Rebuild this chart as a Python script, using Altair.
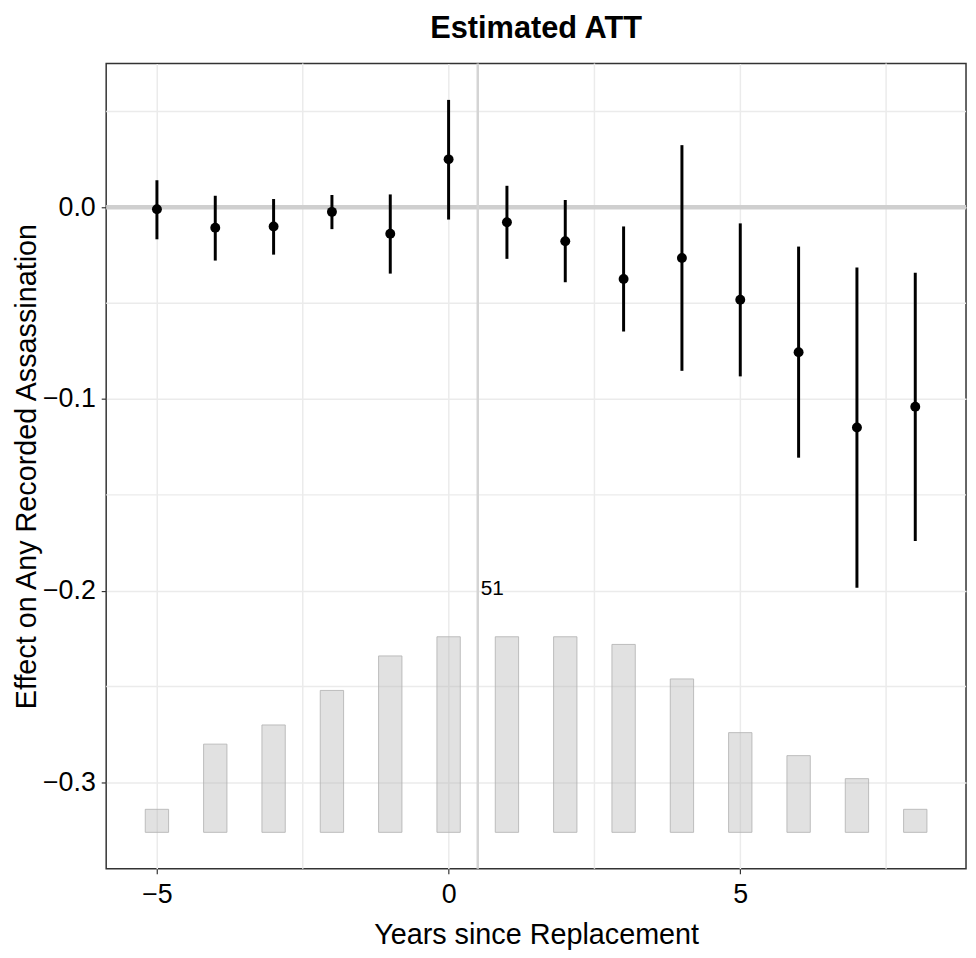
import altair as alt
import pandas as pd

# ---- data ----
time = [-5, -4, -3, -2, -1, 0, 1, 2, 3, 4, 5, 6, 7, 8]
att = [-0.0010, -0.0107, -0.0100, -0.0024, -0.0138, 0.0250, -0.0078,
       -0.0177, -0.0374, -0.0265, -0.0482, -0.0756, -0.1149, -0.1040]
ci_lower = [-0.0167, -0.0278, -0.0247, -0.0114, -0.0346, -0.0064, -0.0269,
            -0.0391, -0.0648, -0.0853, -0.0882, -0.1306, -0.1985, -0.1740]
ci_upper = [0.0141, 0.0060, 0.0043, 0.0064, 0.0067, 0.0560, 0.0112,
            0.0038, -0.0100, 0.0324, -0.0084, -0.0205, -0.0314, -0.0341]
counts = [6, 23, 28, 37, 46, 51, 51, 51, 49, 40, 26, 20, 14, 6]

x_major = [-5, 0, 5]
x_minor = [-2.5, 2.5, 7.5]
y_major = [-0.3, -0.2, -0.1, 0.0]
y_minor = [-0.25, -0.15, -0.05, 0.05]

# ---- layout / style constants ----
X_DOMAIN = [-5.87, 8.87]
Y_DOMAIN = [-0.345, 0.075]
BAR_BASE = -0.326
BAR_MAX_H = 0.102
BAR_HALF = 0.2
W, H = 867, 812
FONT = "Liberation Sans"
GRID = "#ebebeb"

df = pd.DataFrame({"time": time, "att": att, "lo": ci_lower, "hi": ci_upper, "count": counts})
df["x0"] = df["time"] - BAR_HALF
df["x1"] = df["time"] + BAR_HALF
df["y0"] = BAR_BASE
df["y1"] = BAR_BASE + df["count"] / max(counts) * BAR_MAX_H

xs = alt.Scale(domain=X_DOMAIN, nice=False, zero=False)
ys = alt.Scale(domain=Y_DOMAIN, nice=False, zero=False)

x_axis = alt.Axis(values=x_major, format="d", grid=True, gridColor=GRID, gridWidth=1.5,
                  domain=False, tickSize=5, tickColor="#333333", tickWidth=1.2,
                  labelFont=FONT, labelFontSize=27, labelColor="black", labelPadding=8,
                  title="Years since Replacement", titleFont=FONT, titleFontSize=29,
                  titleFontWeight="normal", titleColor="black",
                  titleX=W / 2, titleY=66, titleBaseline="middle", titleAlign="center")
y_axis = alt.Axis(values=y_major, format=".1f", grid=True, gridColor=GRID, gridWidth=1.5,
                  domain=False, tickSize=5, tickColor="#333333", tickWidth=1.2,
                  labelFont=FONT, labelFontSize=27, labelColor="black", labelPadding=6,
                  title="Effect on Any Recorded Assassination", titleFont=FONT,
                  titleFontSize=29, titleFontWeight="normal", titleColor="black",
                  titleAngle=270, titleX=-80, titleY=H / 2, titleBaseline="middle",
                  titleAlign="center")


def X(field):
    return alt.X(field, scale=xs, axis=x_axis)


def Y(field):
    return alt.Y(field, scale=ys, axis=y_axis)


vgrid = alt.Chart(pd.DataFrame({"v": x_minor})).mark_rule(color=GRID, strokeWidth=1.5).encode(
    x=X("v:Q"))
hgrid = alt.Chart(pd.DataFrame({"v": y_minor})).mark_rule(color=GRID, strokeWidth=1.5).encode(
    y=Y("v:Q"))

zero_line = alt.Chart(pd.DataFrame({"v": [0.0]})).mark_rule(color="#cfcfcf", strokeWidth=4.5).encode(
    y=Y("v:Q"))
treat_line = alt.Chart(pd.DataFrame({"v": [0.5]})).mark_rule(color="#d4d4d4", strokeWidth=2.5).encode(
    x=X("v:Q"))

base = alt.Chart(df)
bars = base.mark_rect(fill="#b3b3b3", fillOpacity=0.4, stroke="#b3b3b3", strokeOpacity=0.85,
                      strokeWidth=1).encode(
    x=X("x0:Q"), x2="x1:Q", y=Y("y0:Q"), y2="y1:Q")

errs = base.mark_rule(color="black", strokeWidth=3).encode(
    x=X("time:Q"), y=Y("lo:Q"), y2="hi:Q")

pts = base.mark_circle(color="black", opacity=1, size=100).encode(
    x=X("time:Q"), y=Y("att:Q"))

label = alt.Chart(pd.DataFrame({"x": [0.55], "y": [-0.199], "t": [str(max(counts))]})).mark_text(
    font=FONT, fontSize=21, color="black", align="left", baseline="middle").encode(
    x=X("x:Q"), y=Y("y:Q"), text="t:N")

chart = alt.layer(vgrid, hgrid, zero_line, treat_line, bars, errs, pts, label).properties(
    width=W, height=H,
    title=alt.TitleParams("Estimated ATT", font=FONT, fontSize=31, fontWeight="bold",
                          color="black", anchor="middle", offset=17),
    autosize=alt.AutoSizeParams(type="none"),
    padding={"left": 99, "top": 52, "right": 2, "bottom": 80},
).configure(background="white").configure_view(stroke="#333333", strokeWidth=1.5)

chart.save("out.html", embed_options={"renderer": "svg", "actions": False})
